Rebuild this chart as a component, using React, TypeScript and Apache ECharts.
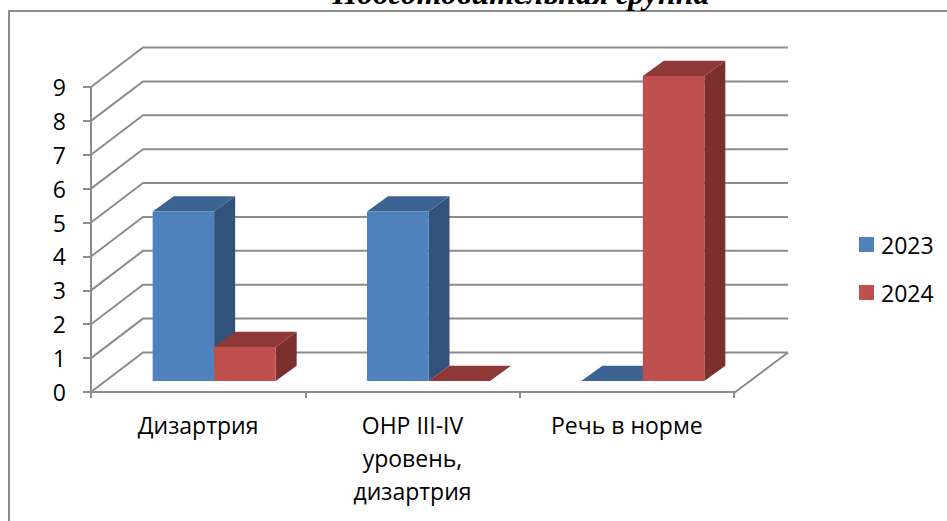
import React, { useEffect, useRef } from "react";
import * as echarts from "echarts";

const titleText = "Подготовительная группа";
const categories = ["Дизартрия", "ОНР III-IV\nуровень,\nдизартрия", "Речь в норме"];
const seriesNames = ["2023", "2024"];
const values2023 = [5, 5, 0];
const values2024 = [1, 0, 9];
const yTicks = [0, 1, 2, 3, 4, 5, 6, 7, 8, 9];

const blue = { front: "#4f81bd", top: "#3c6392", side: "#31527a" };
const red = { front: "#c0504d", top: "#8e3937", side: "#7b302e" };
const axisColor = "#8c8c8c";
const labelFont = "'Open Sans'";

const wallDX = 52;
const wallDY = -39.5;
const wallExtra = 2;
const barDX = 21;
const barDY = -15.3;
const planeDX = 16;
const planeDY = -11;
const barW = 61.5;

function barRenderer(colors: typeof blue, seriesIndex: number) {
  return (_p: any, api: any) => {
    const cat = api.value(0);
    const v = api.value(1);
    const [cx, y0] = api.coord([cat, 0]);
    const [, y1] = api.coord([cat, v]);
    const left = cx + planeDX + (seriesIndex === 0 ? -barW : 0);
    const right = left + barW;
    const bottom = y0 + planeDY;
    const top = y1 + planeDY;
    const children: any[] = [];
    if (v > 0) {
      children.push({
        type: "polygon",
        shape: { points: [[right, top], [right + barDX, top + barDY], [right + barDX, bottom + barDY], [right, bottom]] },
        style: { fill: colors.side },
      });
    }
    children.push({
      type: "polygon",
      shape: { points: [[left, top], [left + barDX, top + barDY], [right + barDX, top + barDY], [right, top]] },
      style: { fill: colors.top },
    });
    if (v > 0) {
      children.push({
        type: "rect",
        shape: { x: left, y: top, width: barW, height: bottom - top },
        style: { fill: colors.front },
      });
    }
    return { type: "group", children };
  };
}

function wallRenderer(params: any, api: any) {
  const v = api.value(0);
  const cs = params.coordSys;
  const [, y] = api.coord([0, v]);
  const x0 = cs.x;
  const x1 = cs.x + cs.width;
  return {
    type: "polyline",
    shape: { points: [[x0, y], [x0 + wallDX, y + wallDY], [x1 + wallDX + wallExtra, y + wallDY]] },
    style: { stroke: axisColor, lineWidth: 2, fill: "none" },
  };
}

function floorRenderer(params: any, api: any) {
  const cs = params.coordSys;
  const [, y] = api.coord([0, 0]);
  const x1 = cs.x + cs.width;
  return {
    type: "line",
    shape: { x1, y1: y + 1, x2: x1 + wallDX + wallExtra, y2: y + wallDY },
    style: { stroke: axisColor, lineWidth: 2 },
  };
}

export default function App() {
  const ref = useRef<HTMLDivElement>(null);
  useEffect(() => {
    const chart = echarts.init(ref.current!, undefined, { renderer: "svg" });
    chart.setOption({
      animation: false,
      backgroundColor: "#fff",
      textStyle: { fontFamily: labelFont },
      graphic: [
        {
          type: "rect",
          z: 0,
          shape: { x: 9, y: 11, width: 1000, height: 600 },
          style: { fill: "none", stroke: axisColor, lineWidth: 2 },
        },
        {
          type: "text",
          x: 521,
          y: -23,
          style: {
            text: titleText,
            fontFamily: "'Liberation Serif'",
            fontWeight: "bold",
            fontStyle: "italic",
            fontSize: 32,
            fill: "#000",
            align: "center",
            verticalAlign: "top",
          },
        },
      ],
      grid: { left: 91, top: 87, width: 643, height: 305 },
      legend: {
        data: seriesNames.map((name, i) => ({
          name,
          icon: "rect",
          itemStyle: { color: i === 0 ? blue.front : red.front },
        })),
        orient: "vertical",
        left: 859,
        top: 233,
        itemWidth: 15,
        itemHeight: 15,
        itemGap: 25,
        textStyle: { fontSize: 23, fontFamily: labelFont, color: "#000", padding: [0, 0, 0, 2] },
        padding: 0,
      },
      xAxis: {
        type: "category",
        data: categories,
        offset: 2,
        axisLine: { lineStyle: { color: axisColor, width: 2 } },
        axisTick: { show: true, alignWithLabel: false, length: 6, lineStyle: { color: axisColor, width: 2 } },
        axisLabel: { interval: 0, margin: 14, fontSize: 23, lineHeight: 33, color: "#000", fontFamily: labelFont },
      },
      yAxis: {
        type: "value",
        min: 0,
        max: 9,
        interval: 1,
        splitLine: { show: false },
        axisLine: { show: true, lineStyle: { color: axisColor, width: 2 } },
        axisTick: { show: true, length: 8, lineStyle: { color: axisColor, width: 2 } },
        axisLabel: { margin: 25, fontSize: 23, color: "#000", fontFamily: labelFont, padding: [3, 0, 0, 0] },
      },
      series: [
        {
          type: "custom",
          name: "walls",
          silent: true,
          z: 1,
          renderItem: wallRenderer,
          encode: { y: 0 },
          data: yTicks.map((t) => [t]),
        },
        {
          type: "custom",
          name: "floor",
          silent: true,
          z: 1,
          renderItem: floorRenderer,
          data: [[0]],
        },
        {
          type: "custom",
          name: seriesNames[0],
          z: 2,
          renderItem: barRenderer(blue, 0),
          encode: { x: 0, y: 1 },
          data: values2023.map((v, i) => [i, v]),
        },
        {
          type: "custom",
          name: seriesNames[1],
          z: 3,
          renderItem: barRenderer(red, 1),
          encode: { x: 0, y: 1 },
          data: values2024.map((v, i) => [i, v]),
        },
      ],
    });
    return () => chart.dispose();
  }, []);
  return <div ref={ref} style={{ position: "fixed", left: 0, top: 0, width: 947, height: 521 }} />;
}
